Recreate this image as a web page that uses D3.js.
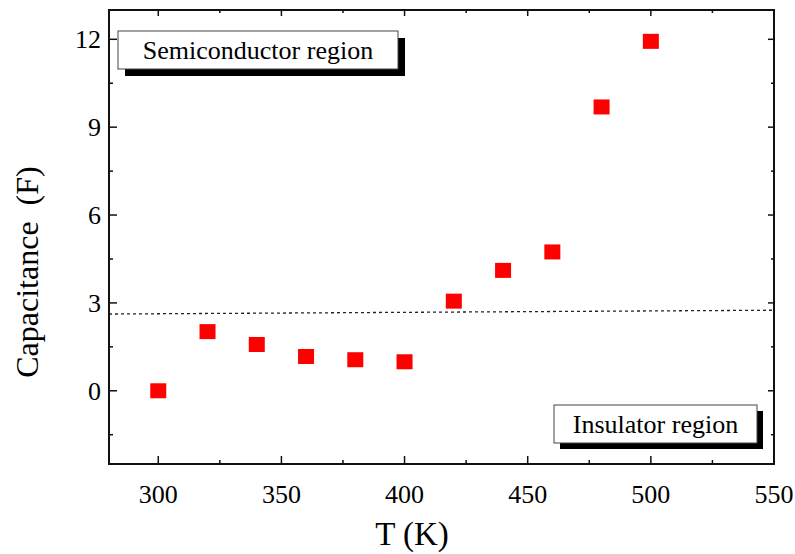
<!DOCTYPE html>
<html><head><meta charset="utf-8">
<script src="https://cdn.jsdelivr.net/npm/d3@7"></script>
<style>body{margin:0;background:#fff}svg{display:block}text{font-family:"Liberation Serif","Times New Roman",serif}</style>
</head><body>
<svg id="c" width="795" height="554"></svg>
<script>
const temps = [300, 320, 340, 360, 380, 400, 420, 440, 460, 480, 500];
const capacitance = [0.0, 2.02, 1.58, 1.17, 1.06, 0.99, 3.06, 4.11, 4.74, 9.69, 11.93];
const xTicks = [300, 350, 400, 450, 500, 550];
const xMinor = [325, 375, 425, 475, 525];
const yTicks = [0, 3, 6, 9, 12];
const yMinor = [-1.5, 1.5, 4.5, 7.5, 10.5];
const threshold = [[280, 2.62], [550, 2.75]];
const labelTexts = ["Semiconductor region", "Insulator region"];

const svg = d3.select("#c");
const L = 109, R = 774, T = 10, B = 464;
const x = d3.scaleLinear().domain([280, 550]).range([L, R]);
const y = d3.scaleLinear().domain([-2.5, 13]).range([B, T]);

// threshold dashed line
svg.append("path")
  .attr("d", d3.line().x(d => x(d[0])).y(d => y(d[1]))(threshold))
  .attr("stroke", "#222").attr("stroke-width", 1.3)
  .attr("stroke-dasharray", "3,3").attr("fill", "none");

// frame
const g = svg.append("g");
g.append("rect").attr("x", L).attr("y", T).attr("width", R - L).attr("height", B - T)
  .attr("fill", "none").attr("stroke", "#111").attr("stroke-width", 2);

function tick(x1, y1, x2, y2) {
  g.append("line").attr("x1", x1).attr("y1", y1).attr("x2", x2).attr("y2", y2)
    .attr("stroke", "#111").attr("stroke-width", 1.5);
}
xTicks.forEach(v => { tick(x(v), B, x(v), B - 8); tick(x(v), T, x(v), T + 6); });
xMinor.forEach(v => { tick(x(v), B, x(v), B - 4); tick(x(v), T, x(v), T + 3); });
yTicks.forEach(v => { tick(L, y(v), L + 8, y(v)); tick(R, y(v), R - 6, y(v)); });
yMinor.forEach(v => { tick(L, y(v), L + 4, y(v)); tick(R, y(v), R - 3, y(v)); });

// tick labels
svg.append("g").selectAll("text").data(xTicks).join("text")
  .attr("x", d => x(d)).attr("y", 503).attr("text-anchor", "middle")
  .attr("font-size", 26).text(d => d);
svg.append("g").selectAll("text").data(yTicks).join("text")
  .attr("x", 101).attr("y", d => y(d)).attr("dy", "0.34em").attr("text-anchor", "end")
  .attr("font-size", 26).text(d => d);

// axis titles
svg.append("text").attr("x", 412).attr("y", 545).attr("text-anchor", "middle")
  .attr("font-size", 33).text("T (K)");
svg.append("text").attr("transform", "translate(38,272) rotate(-90)")
  .attr("text-anchor", "middle").attr("font-size", 32)
  .style("white-space", "pre").text("Capacitance  (F)");

// markers
svg.append("g").selectAll("rect").data(temps).join("rect")
  .attr("x", (d) => x(d) - 8).attr("y", (d, i) => y(capacitance[i]) - 7.5)
  .attr("width", 16).attr("height", 15).attr("fill", "#ff0000");

// label boxes (layout in pixels)
const boxes = [
  {x: 118, y: 31, w: 280, h: 38, sh: 7},
  {x: 554, y: 405, w: 203, h: 38, sh: 6}
];
boxes.forEach((b, i) => {
  const gg = svg.append("g");
  gg.append("rect").attr("x", b.x + b.sh).attr("y", b.y + b.sh).attr("width", b.w).attr("height", b.h).attr("fill", "#000");
  gg.append("rect").attr("x", b.x).attr("y", b.y).attr("width", b.w).attr("height", b.h)
    .attr("fill", "#fff").attr("stroke", "#444").attr("stroke-width", 1);
  gg.append("text").attr("x", b.x + b.w / 2).attr("y", b.y + b.h / 2).attr("dy", "0.35em")
    .attr("text-anchor", "middle").attr("font-size", 26).text(labelTexts[i]);
});
</script>
</body></html>
